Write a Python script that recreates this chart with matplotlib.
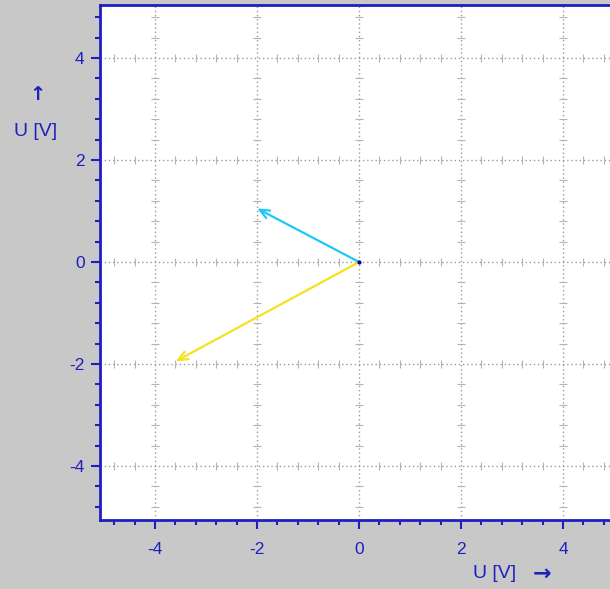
import matplotlib
matplotlib.use("Agg")
import matplotlib.pyplot as plt
import numpy as np

plt.rcParams['font.family'] = ['Liberation Sans', 'DejaVu Sans']

# Data
vec_names = ["U1", "U2"]
vec_x = [-2.0, -3.6]
vec_y = [1.05, -1.95]
vec_colors = ["#1ec8f5", "#f5e21e"]
major_ticks = [-4, -2, 0, 2, 4]
tick_labels = ["-4", "-2", "0", "2", "4"]
minor_step = 0.4

BLUE = "#1f1fbf"
BG = "#c8c8c8"

fig = plt.figure(figsize=(6.10, 5.89), dpi=100)
fig.patch.set_facecolor(BG)
W, H = 610, 589
xmin, xmax = -5.08, 5.08
ymin, ymax = -5.06, 5.04
ppu = 51.0
left_px, top_px, bottom_px = 100, 5, 520
ax = fig.add_axes([left_px / W, (H - bottom_px) / H,
                   (xmax - xmin) * ppu / W, (bottom_px - top_px) / H])
ax.set_facecolor("white")
ax.set_xlim(xmin, xmax)
ax.set_ylim(ymin, ymax)

for s in ["left", "bottom", "top"]:
    ax.spines[s].set_color(BLUE)
    ax.spines[s].set_linewidth(2)
ax.spines["right"].set_visible(False)

minor = np.round(np.arange(-5.2, 5.21, minor_step), 2)
minor = [m for m in minor if xmin <= m <= xmax and not np.isclose(m % 2, 0) and not np.isclose(m % 2, 2)]

ax.set_xticks(major_ticks)
ax.set_xticklabels(tick_labels)
ax.set_yticks(major_ticks)
ax.set_yticklabels(tick_labels)
ax.set_xticks(minor, minor=True)
ax.set_yticks(minor, minor=True)
ax.tick_params(which="major", direction="out", length=6.5, width=1.5, color=BLUE,
               labelcolor=BLUE, labelsize=12.5, pad=4.5)
ax.tick_params(axis="x", which="major", pad=9)
ax.tick_params(which="minor", direction="out", length=3.8, width=1.5, color=BLUE)
ax.tick_params(top=False, right=False, which="both")

# Grid
gcol = "#9a9a9a"
for t in major_ticks:
    ax.axvline(t, color=gcol, lw=1, ls=(0, (1, 2)), zorder=1)
    ax.axhline(t, color=gcol, lw=1, ls=(0, (1, 2)), zorder=1)
    ax.scatter(minor, [t] * len(minor), marker="|", s=40, linewidths=0.8,
               color="#b4b4b4", zorder=1)
    ax.scatter([t] * len(minor), minor, marker="_", s=40, linewidths=0.8,
               color="#b4b4b4", zorder=1)

# Vectors
for x, y, c in zip(vec_x, vec_y, vec_colors):
    ax.annotate("", xy=(x, y), xytext=(0, 0),
                arrowprops=dict(arrowstyle="->,head_length=0.7,head_width=0.3",
                                color=c, lw=1.6, shrinkA=0, shrinkB=0), zorder=3)
ax.plot([0], [0], marker="o", ms=2, color="#0000aa", zorder=4)

# Axis labels
fig.text(473 / W, 1 - 573 / H, "U [V]", color=BLUE, fontsize=14,
         ha="left", va="center")
fig.text(551 / W, 1 - 574 / H, "\u2192", color=BLUE, fontsize=16,
         ha="right", va="center", family=["DejaVu Sans"], weight="bold")
fig.text(37 / W, 1 - 95 / H, "\u2191", color=BLUE, fontsize=14,
         ha="center", va="center", family=["DejaVu Sans"], weight="bold")
fig.text(36 / W, 1 - 131 / H, "U [V]", color=BLUE, fontsize=14,
         ha="center", va="center")

fig.savefig("out.png", dpi=100, facecolor=BG)
